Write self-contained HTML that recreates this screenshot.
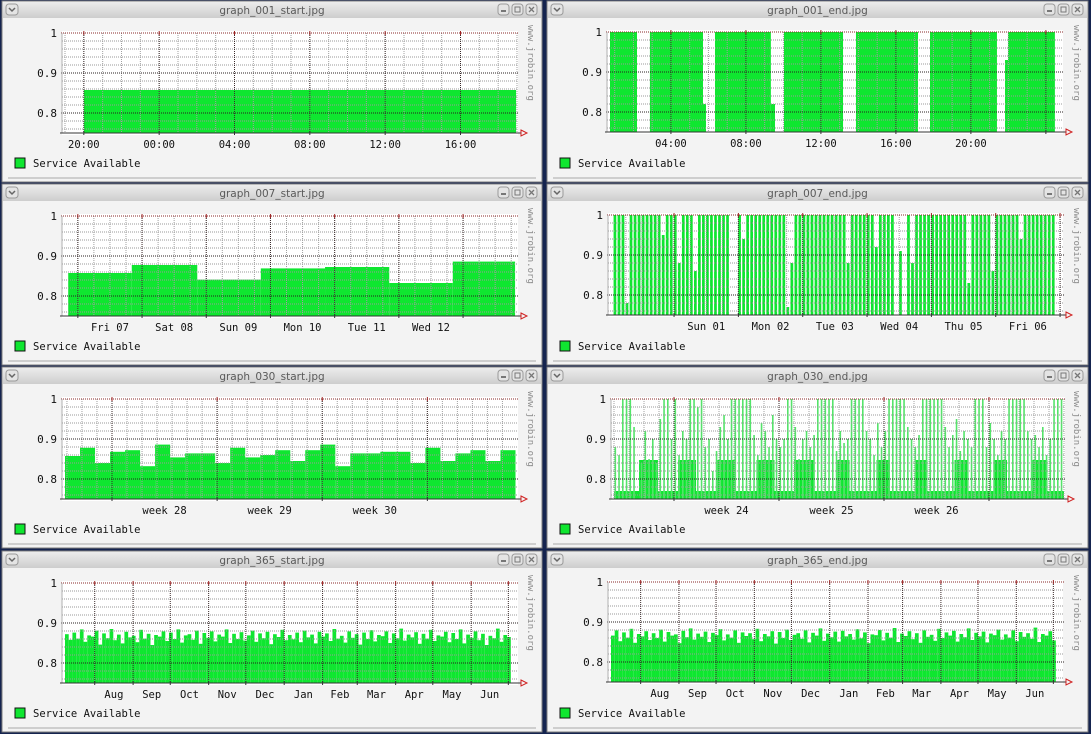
<!DOCTYPE html>
<html><head><meta charset="utf-8"><style>
html,body{margin:0;padding:0;background:#15244f;}
svg{display:block;}
</style></head><body>
<svg id="root" width="1091" height="734" viewBox="0 0 1091 734" xmlns="http://www.w3.org/2000/svg">
<defs><linearGradient id="tb" x1="0" y1="0" x2="0" y2="1"><stop offset="0" stop-color="#ececec"/><stop offset="1" stop-color="#cdcdcd"/></linearGradient></defs>
<rect x="0" y="0" width="1091" height="734" fill="#15244f"/>
</svg>
<script>
// ---------- data ----------
// graph_001_start (hours since 19:00)
const s001Edges=[1,23.95];
const s001Vals=[0.8575];
const s001Majors=[1,5,9,13,17,21];
const s001LabelPos=[1,5,9,13,17,21];
const s001Labels=['20:00','00:00','04:00','08:00','12:00','16:00'];
// graph_001_end (hours since midnight)
const e001Edges=[0.75,2.19,2.88,5.71,5.87,6.35,9.33,9.55,10.03,13.18,13.87,17.18,17.82,21.39,21.82,21.98,24.48];
const e001Vals=[1,0,1,0.82,0,1,0.82,0,1,0,1,0,1,0,0.93,1];
const e001Majors=[4,8,12,16,20,24];
const e001LabelPos=[4,8,12,16,20];
const e001Labels=['04:00','08:00','12:00','16:00','20:00'];
// graph_007_start (days)
const s007Edges=[6.85,7.84,8.86,9.85,10.85,11.85,12.84,13.81];
const s007Vals=[0.8575,0.8775,0.841,0.869,0.8725,0.8325,0.886];
const s007Majors=[7,8,9,10,11,12,13];
const s007LabelPos=[7.5,8.5,9.5,10.5,11.5,12.5];
const s007Labels=['Fri 07','Sat 08','Sun 09','Mon 10','Tue 11','Wed 12'];
// graph_007_end (days, 1/16 day bins)
const e007Vals=[1,1,1,0.78,1,1,1,1,1,1, 1,1,0.95,1,1,1,0.88,1,1,1, 0.86,1,1,1,1,1,1,1,1,0, 0,1,0.94,1,1,1,1,1,1,1, 1,1,1,0.77,0.88,1,1,1,1,1, 1,1,1,1,1,1,1,1,0.88,1, 1,1,1,1,1,0.92,1,1,1,1, 0,0.91,0,1,0.88,1,1,1,1,1, 1,1,1,1,1,1,1,1,0.83,1, 1,1,1,1,0.86,1,1,1,1,1, 1,0.94,1,1,1,1,1,1,1,1];
const e007Majors=[1,2,3,4,5,6,7];
const e007LabelPos=[1.5,2.5,3.5,4.5,5.5,6.5];
const e007Labels=['Sun 01','Mon 02','Tue 03','Wed 04','Thu 05','Fri 06'];
// graph_030_start (days)
const s030Vals=[0.8575,0.878,0.84,0.868,0.872,0.832,0.886,0.854,0.864,0.864,0.84,0.878,0.854,0.86,0.872,0.845,0.872,0.886,0.832,0.864,0.864,0.868,0.868,0.84,0.878,0.845,0.864,0.872,0.845,0.872];
const s030Majors=[3.13,10.13,17.13,24.13];
const s030LabelPos=[6.63,13.63,20.63];
const s030Labels=['week 28','week 29','week 30'];
// graph_030_end (days)
const e030Edges=[0,1.67,2.93,4.27,5.47,6.9,8.1,9.5,10.7,12,13.3,14.9,15.7,17.5,18.4,20.1,20.9,22.7,23.6,25.3,26.2,27.9,28.9,30];
const e030Vals=[0.77,0.8475,0.77,0.8475,0.77,0.8475,0.77,0.8475,0.77,0.8475,0.77,0.8475,0.77,0.8475,0.77,0.8475,0.77,0.8475,0.77,0.8475,0.77,0.8475,0.77];
const e030Spikes=[0.88,0.86,1,1, 1,0.93,0,0.84, 0.92,0.85,0.9,0.84, 0.95,1,1,0.9, 1,0.86,0.92,0.9, 1,1,0.98,1, 0.88,0.9,0.82,0.87, 0.93,0.96,0.9,1, 1,1,1,1, 1,0.91,0.86,0.94, 0.92,0.88,0.96,0.9, 0.88,0.9,1,1, 0.93,0.85,0.9,0.92, 0.88,0.91,1,1, 1,1,1,0.87, 0.92,0.89,0.9,1, 1,1,1,0.92, 0.9,0.86,0.94,0.88, 0.92,1,1,1, 1,1,0.93,0.9, 0.88,0.91,1,1, 1,1,1,1, 0.93,0.88,0.91,0.95, 0.87,0.92,0.9,0.88, 1,1,1,0.88, 0.94,0.9,0.86,0.92, 0.9,1,1,1, 1,1,0.92,0.9, 0.91,0.88,0.93,0.86, 0.9,1,1,1];
const e030Majors=[4,11,18,25];
const e030LabelPos=[7.5,14.5,21.5];
const e030Labels=['week 24','week 25','week 26'];
// graph_365 (days, 3-day bins)
const s365Vals=[0.872,0.858,0.876,0.861,0.884,0.853,0.869,0.866,0.881,0.846,0.874,0.862,0.885,0.857,0.871,0.849,0.878,0.864,0.868,0.852,0.883,0.861,0.873,0.845,0.87,0.866,0.879,0.855,0.876,0.86,0.884,0.851,0.869,0.872,0.858,0.881,0.848,0.875,0.863,0.879,0.854,0.871,0.866,0.884,0.85,0.873,0.86,0.877,0.856,0.869,0.881,0.853,0.874,0.862,0.878,0.847,0.872,0.865,0.883,0.857,0.87,0.859,0.876,0.852,0.881,0.864,0.871,0.849,0.878,0.866,0.874,0.855,0.885,0.861,0.868,0.851,0.879,0.863,0.872,0.846,0.876,0.86,0.882,0.854,0.87,0.867,0.879,0.85,0.874,0.862,0.886,0.856,0.871,0.864,0.877,0.848,0.873,0.861,0.883,0.855,0.869,0.866,0.878,0.852,0.875,0.86,0.884,0.849,0.871,0.863,0.879,0.857,0.873,0.845,0.868,0.862,0.886,0.853,0.87,0.865];
const e365Vals=[0.866,0.879,0.852,0.874,0.861,0.883,0.848,0.87,0.864,0.877,0.855,0.872,0.86,0.881,0.851,0.875,0.866,0.869,0.847,0.878,0.862,0.884,0.856,0.871,0.863,0.876,0.85,0.873,0.867,0.882,0.854,0.869,0.861,0.879,0.848,0.874,0.865,0.872,0.857,0.883,0.852,0.87,0.864,0.877,0.846,0.875,0.86,0.881,0.855,0.868,0.872,0.858,0.879,0.849,0.873,0.866,0.884,0.853,0.871,0.862,0.876,0.851,0.878,0.864,0.87,0.856,0.882,0.859,0.874,0.847,0.869,0.867,0.88,0.854,0.873,0.861,0.885,0.85,0.871,0.865,0.877,0.857,0.872,0.848,0.879,0.863,0.868,0.853,0.883,0.86,0.874,0.866,0.878,0.851,0.87,0.862,0.884,0.855,0.873,0.864,0.876,0.849,0.871,0.867,0.881,0.856,0.869,0.861,0.879,0.852,0.875,0.863,0.872,0.858,0.886,0.85,0.87,0.866,0.877,0.854];
const m365Majors=[24,55,85,116,146,177,208,236,267,297,328,358];
const m365LabelPos=[39.5,70,100.5,131,161.5,192.5,222,251.5,282,312.5,343];
const m365Labels=['Aug','Sep','Oct','Nov','Dec','Jan','Feb','Mar','Apr','May','Jun'];

// ---------- rendering ----------
const NS='http://www.w3.org/2000/svg';
const root=document.getElementById('root');
const GREEN='#0fe630';
function mk(tag,attrs,parent){const e=document.createElementNS(NS,tag);for(const k in attrs)e.setAttribute(k,attrs[k]);(parent||root).appendChild(e);return e;}

const charts=[
 {key:'graph-001-start',title:'graph_001_start.jpg',wx:2,wy:1,w:540,x0:65,x1:517,yTop:33,d0:0,d1:24,edges:s001Edges,vals:s001Vals,minor:1,minorStart:0,majors:s001Majors,labelPos:s001LabelPos,labels:s001Labels},
 {key:'graph-001-end',title:'graph_001_end.jpg',wx:547,wy:1,w:541,x0:610,x1:1062,yTop:32,d0:0.75,d1:24.86,edges:e001Edges,vals:e001Vals,minor:1,minorStart:1,majors:e001Majors,labelPos:e001LabelPos,labels:e001Labels},
 {key:'graph-007-start',title:'graph_007_start.jpg',wx:2,wy:184,w:540,x0:65,x1:517,yTop:216,d0:6.8,d1:13.84,edges:s007Edges,vals:s007Vals,minor:0.25,minorStart:7,majors:s007Majors,labelPos:s007LabelPos,labels:s007Labels},
 {key:'graph-007-end',title:'graph_007_end.jpg',wx:547,wy:184,w:541,x0:611,x1:1062,yTop:215,d0:0.02,d1:7.03,binStart:0.06,binSize:0.0625,vals:e007Vals,gap:1.3,minor:0.25,minorStart:0,majors:e007Majors,labelPos:e007LabelPos,labels:e007Labels},
 {key:'graph-030-start',title:'graph_030_start.jpg',wx:2,wy:367,w:540,x0:65,x1:517,yTop:399,d0:0,d1:30.1,binStart:0,binSize:1,vals:s030Vals,minor:1,minorStart:0.13,majors:s030Majors,labelPos:s030LabelPos,labels:s030Labels},
 {key:'graph-030-end',title:'graph_030_end.jpg',wx:547,wy:367,w:541,x0:614,x1:1064,yTop:399,d0:0,d1:30,edges:e030Edges,vals:e030Vals,spikes:e030Spikes,spikeStart:0,spikeSize:0.25,minor:1,minorStart:0,majors:e030Majors,labelPos:e030LabelPos,labels:e030Labels},
 {key:'graph-365-start',title:'graph_365_start.jpg',wx:2,wy:551,w:540,x0:65,x1:517,yTop:583,d0:0,d1:365,binStart:0,binSize:3,vals:s365Vals,minor:null,majors:m365Majors,labelPos:m365LabelPos,labels:m365Labels},
 {key:'graph-365-end',title:'graph_365_end.jpg',wx:547,wy:551,w:541,x0:611,x1:1062,yTop:582,d0:0,d1:365,binStart:0,binSize:3,vals:e365Vals,minor:null,majors:m365Majors,labelPos:m365LabelPos,labels:m365Labels}
];

charts.forEach(c=>{
  const g=mk('g',{});
  
  
  const H=181;
  const yBot=c.yTop+100;
  const X=d=>c.x0+(d-c.d0)/(c.d1-c.d0)*(c.x1-c.x0);
  const Y=v=>c.yTop+(1-v)*400;
  // frame
  mk('rect',{x:c.wx,y:c.wy,width:c.w,height:H,fill:'#f3f3f3',stroke:'#7d7d7d'},g);
  const tb=mk('rect',{x:c.wx+1,y:c.wy+1,width:c.w-2,height:16,fill:'url(#tb)'},g);
  
  
  const tt=mk('text',{x:c.wx+c.w/2,y:c.wy+13,'text-anchor':'middle','font-family':'DejaVu Sans, Liberation Sans, sans-serif','font-size':'10.5',fill:'#5a5a5a'},g);
  tt.textContent=c.title;
  
  
  const mb=mk('rect',{x:c.wx+4,y:c.wy+3,width:12,height:11,rx:3,fill:'#e4e4e4',stroke:'#9a9a9a'},g);
  
  
  mk('path',{d:`M${c.wx+7} ${c.wy+7} l3 3 l3 -3`,stroke:'#666',fill:'none','stroke-width':1.5},g);
  ['minimize-button','maximize-button','close-button'].forEach((n,i)=>{
    const bx=c.wx+c.w-44+i*14;
    const b=mk('rect',{x:bx,y:c.wy+3,width:11,height:11,rx:3,fill:'#e4e4e4',stroke:'#9a9a9a'},g);
    
    
    if(i===0)mk('rect',{x:bx+3,y:c.wy+9,width:5,height:2,fill:'#777'},g);
    if(i===1)mk('rect',{x:bx+3,y:c.wy+6,width:5,height:5,fill:'none',stroke:'#777'},g);
    if(i===2)mk('path',{d:`M${bx+3} ${c.wy+6} l5 5 M${bx+8} ${c.wy+6} l-5 5`,stroke:'#777','stroke-width':1.3},g);
  });
  mk('line',{x1:c.wx+6,y1:c.wy+H-4,x2:c.wx+c.w-6,y2:c.wy+H-4,stroke:'#a8a8a8'},g);
  // plot bg
  mk('rect',{x:c.x0-3,y:c.yTop-2,width:c.x1-c.x0+4,height:104,fill:'#ffffff'},g);
  // data fill
  const dg=mk('g',{},g);
  
  
  if(c.edges){
    for(let i=0;i<c.vals.length;i++){
      const v=c.vals[i]; if(!v)continue;
      const xa=X(c.edges[i]),xb=X(c.edges[i+1]);
      const r=mk('rect',{x:xa,y:Y(v),width:Math.max(0,xb-xa),height:yBot-Y(v),fill:GREEN},dg);
      
      
    }
  } else {
    for(let i=0;i<c.vals.length;i++){
      const v=c.vals[i]; if(!v)continue;
      const xa=X(c.binStart+i*c.binSize),xb=X(c.binStart+(i+1)*c.binSize);
      const r=mk('rect',{x:xa,y:Y(v),width:Math.max(0.5,xb-xa-(c.gap||0)),height:yBot-Y(v),fill:GREEN},dg);
      
      
    }
  }
  if(c.spikes){
    for(let i=0;i<c.spikes.length;i++){
      const v=c.spikes[i]; if(!v)continue;
      const xa=X(c.spikeStart+i*c.spikeSize);
      const r=mk('rect',{x:xa+0.5,y:Y(v),width:1.6,height:yBot-Y(v),fill:'#55e46a'},dg);
      
      
    }
  }
  // grid
  const gg=mk('g',{},g);
  
  
  for(let v=0.76;v<0.995;v+=0.02){
    if(Math.abs(v-0.8)<0.005||Math.abs(v-0.9)<0.005)continue;
    mk('line',{x1:c.x0-3,x2:c.x1+1,y1:Y(v),y2:Y(v),stroke:'#9a9a9a','stroke-dasharray':'1,1'},gg);
  }
  if(c.minor){
    for(let d=c.minorStart;d<=c.d1;d+=c.minor){
      if(d<c.d0)continue;
      mk('line',{x1:X(d),x2:X(d),y1:c.yTop,y2:yBot,stroke:'#a0a0a0','stroke-dasharray':'1,1'},gg);
    }
  }
  c.majors.forEach(d=>{ mk('line',{x1:X(d),x2:X(d),y1:c.yTop,y2:yBot,stroke:'#3a2a2a','stroke-dasharray':'1,1'},gg);
    mk('line',{x1:X(d),x2:X(d),y1:c.yTop-2,y2:c.yTop+2,stroke:'#a02020'},gg);
    mk('line',{x1:X(d),x2:X(d),y1:yBot-2,y2:yBot+2,stroke:'#333'},gg);});
  [0.8,0.9].forEach(v=>mk('line',{x1:c.x0-4,x2:c.x1+2,y1:Y(v),y2:Y(v),stroke:'#2a2020','stroke-dasharray':'1,1'},gg));
  mk('line',{x1:c.x0-4,x2:c.x1+2,y1:Y(1),y2:Y(1),stroke:'#8a2a2a','stroke-dasharray':'1,1'},gg);
  mk('line',{x1:c.x0-3,x2:c.x0-3,y1:c.yTop,y2:yBot,stroke:'#b0b0b0'},gg);
  const ax=mk('line',{x1:c.x0-5,x2:c.x1+4,y1:yBot,y2:yBot,stroke:'#333'},g);
  
  
  mk('path',{d:`M${c.x1+4} ${yBot-3} l6 3 l-6 3 z`,fill:'none',stroke:'#d02020'},g);
  // y labels
  [[1,'1'],[0.9,'0.9'],[0.8,'0.8']].forEach(([v,t])=>{
    const tx=mk('text',{x:c.x0-8,y:Y(v)+4,'text-anchor':'end','font-family':'DejaVu Sans Mono, Liberation Mono, monospace','font-size':'11',fill:'#111'},g);
    tx.textContent=t;
    
    
  });
  c.labelPos.forEach((d,i)=>{
    const tx=mk('text',{x:X(d),y:yBot+15,'text-anchor':'middle','font-family':'DejaVu Sans Mono, Liberation Mono, monospace','font-size':'10.5',fill:'#111'},g);
    tx.textContent=c.labels[i];
    
    
  });
  // watermark
  const wm=mk('text',{x:0,y:0,transform:`translate(${c.wx+c.w-14},${c.wy+24}) rotate(90)`,'font-family':'DejaVu Sans Mono, Liberation Mono, monospace','font-size':'9',fill:'#8a8a8a'},g);
  wm.textContent='www.jrobin.org';
  
  
  // legend
  const lg=mk('g',{},g);
  
  
  mk('rect',{x:c.wx+13,y:c.wy+157,width:10,height:10,fill:GREEN,stroke:'#111'},lg);
  const lt=mk('text',{x:c.wx+31,y:c.wy+166,'font-family':'DejaVu Sans Mono, Liberation Mono, monospace','font-size':'10.5',fill:'#111'},lg);
  lt.textContent='Service Available';
});
</script>
</body></html>
